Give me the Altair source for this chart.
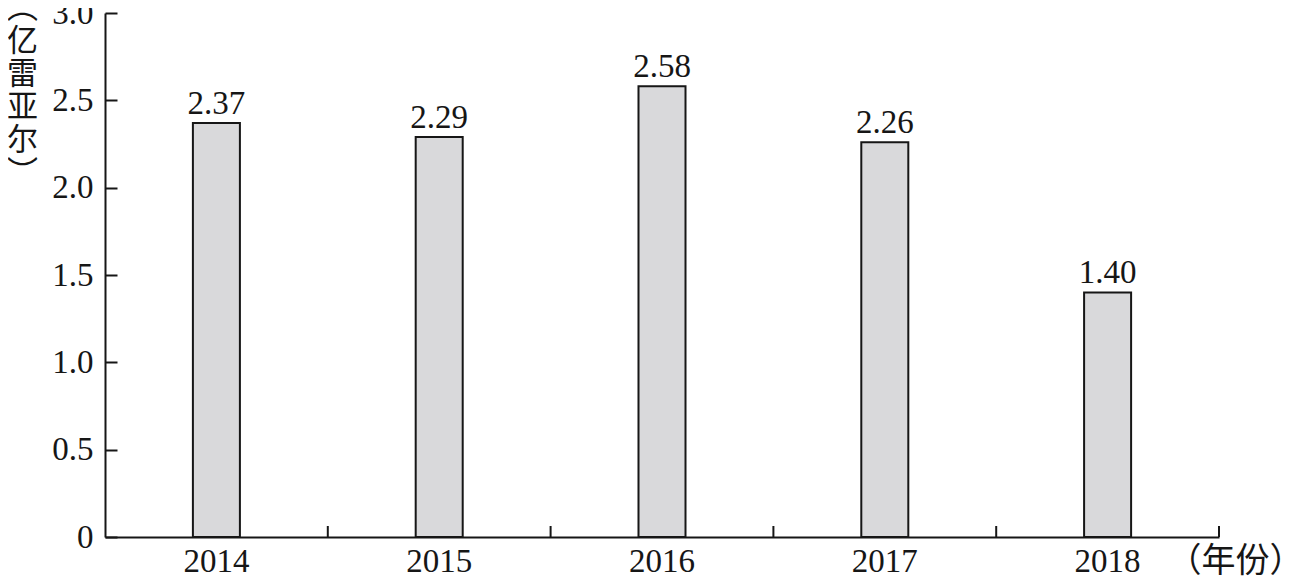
import altair as alt
import pandas as pd

years = ["2014", "2015", "2016", "2017", "2018"]
values = [2.37, 2.29, 2.58, 2.26, 1.40]
y_ticks = [0, 0.5, 1.0, 1.5, 2.0, 2.5, 3.0]
y_title = ["︵", "亿", "雷", "亚", "尔", "︶"]
x_title = "（年份）"

df = pd.DataFrame({"year": years, "value": values})

W, H = 1114, 524
SERIF = "Liberation Serif"
CJK = "Noto Sans CJK SC"
INK = "#161616"
FS = 33

xscale = alt.Scale(domain=years, paddingInner=0, paddingOuter=0)
yscale = alt.Scale(domain=[0, 3.0], nice=False, zero=True)

base = alt.Chart(df)

bars = base.mark_bar(
    fill="#d9d9db", stroke=INK, strokeWidth=2, width=alt.RelativeBandSize(0.211)
).encode(
    x=alt.X(
        "year:N", scale=xscale, sort=years,
        axis=alt.Axis(
            orient="bottom", ticks=False, grid=False, domain=True, domainColor=INK,
            domainWidth=2, labelFont=SERIF, labelFontSize=FS, labelColor=INK,
            labelAngle=0, labelPadding=8,
            title=x_title, titleFont=CJK, titleFontSize=34, titleFontWeight="normal",
            titleColor=INK, titleX=1130, titleY=24, titleAlign="center",
            titleBaseline="middle", titleAngle=0,
        ),
    ),
    y=alt.Y(
        "value:Q", scale=yscale,
        axis=alt.Axis(
            orient="left", values=y_ticks, ticks=False, domain=True,
            domainColor=INK, domainWidth=2,
            # short inward tick marks: grid lines dashed so only their first 12px show
            grid=True, gridColor=INK, gridWidth=2, gridDash=[12, 3000], gridOpacity=1,
            labelExpr="datum.value == 0 ? '0' : format(datum.value, '.1f')",
            labelFont=SERIF, labelFontSize=FS, labelColor=INK, labelPadding=12,
            title=y_title, titleFont=CJK, titleFontSize=31, titleFontWeight="normal",
            titleColor=INK, titleLineHeight=33, titleAngle=0, titleX=-83, titleY=-20,
            titleAlign="center", titleBaseline="top",
        ),
    ),
)

labels = base.mark_text(
    font=SERIF, fontSize=FS, baseline="alphabetic", dy=-9, color=INK
).encode(
    x=alt.X("year:N", scale=xscale, sort=years),
    y=alt.Y("value:Q", scale=yscale),
    text=alt.Text("value:Q", format=".2f"),
)

# inward ticks on the x axis, at the right edge of each year's band
x_ticks = base.mark_rule(color=INK, strokeWidth=2).encode(
    x=alt.X("year:N", scale=xscale, sort=years, bandPosition=1),
    y=alt.value(H),
    y2=alt.value(H - 11),
)

chart = (
    alt.layer(bars, labels, x_ticks)
    .properties(
        width=W, height=H,
        padding={"left": 97, "top": 5, "right": 69, "bottom": 39},
        autosize=alt.AutoSizeParams(type="none"),
        background="white",
    )
    .configure_view(stroke=None)
)

chart.save("out.html", embed_options={"renderer": "svg", "actions": False})
